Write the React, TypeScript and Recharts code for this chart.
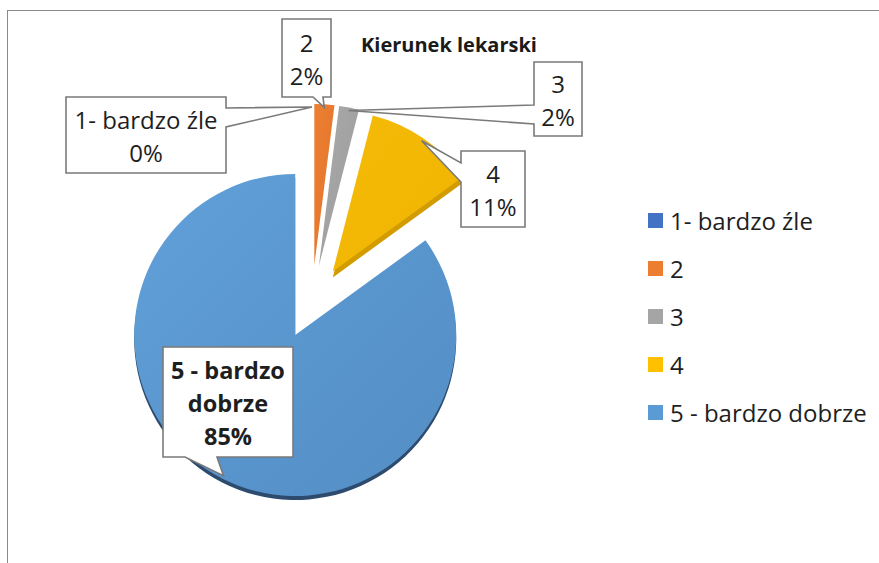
import React from 'react';
import { PieChart, Pie, Cell, Legend } from 'recharts';

// ---- data ----
const categories = ['1- bardzo źle', '2', '3', '4', '5 - bardzo dobrze'];
const shares = [0, 2, 2, 11, 85];
const calloutText = [['1- bardzo źle'], ['2'], ['3'], ['4'], ['5 - bardzo', 'dobrze']];
const title = 'Kierunek lekarski';

// ---- styling / layout ----
const legendColors = ['#4472c4', '#ed7d31', '#a5a5a5', '#ffc000', '#5b9bd5'];
const sliceFills = ['#4472c4', 'url(#gOrange)', 'url(#gGray)', 'url(#gYellow)', 'url(#gBlue)'];
const sideFills: Record<number, { fill: string; depth: number }> = {
  3: { fill: '#d29c00', depth: 6 },
  4: { fill: '#2d4b6e', depth: 4 },
};
const W = 879;
const H = 563;
const CENTER = { x: 312, y: 302 };
const EXPLODE = 37;
const R = 161;
const FONT = '"Open Sans", "Noto Sans", sans-serif';

type Callout = { x: number; y: number; w: number; h: number; side: 'left' | 'right' | 'bottom'; a: number; b: number; bold?: boolean };
const CALLOUTS: Callout[] = [
  { x: 66, y: 97, w: 160, h: 76, side: 'right', a: 108, b: 127 },
  { x: 282, y: 19, w: 49, h: 78, side: 'bottom', a: 313, b: 323 },
  { x: 534, y: 62, w: 48, h: 74, side: 'left', a: 105, b: 124 },
  { x: 461, y: 151, w: 64, h: 76, side: 'left', a: 163, b: 182 },
  { x: 163, y: 347, w: 130, h: 110, side: 'bottom', a: 185, b: 217, bold: true },
];

const data = categories.map((name, i) => ({ name, value: shares[i] }));
const total = shares.reduce((s, v) => s + v, 0);
const explodedCenters = shares.map((v, i) => {
  const cum = shares.slice(0, i).reduce((s, x) => s + x, 0);
  const mid = ((cum + v / 2) / total) * 2 * Math.PI;
  return { x: CENTER.x + EXPLODE * Math.sin(mid), y: CENTER.y - EXPLODE * Math.cos(mid) };
});

const RAD = Math.PI / 180;

const makeLabel = (visible: number) => (props: any) => {
  if (props.index !== visible) return null;
  const c = CALLOUTS[visible];
  const r = props.outerRadius - 3;
  const tx = props.cx + r * Math.cos(-props.midAngle * RAD);
  const ty = props.cy + r * Math.sin(-props.midAngle * RAD);
  const { x, y, w, h, a, b } = c;
  let d = '';
  if (c.side === 'right') {
    d = `M${x},${y} H${x + w} V${a} L${tx},${ty} L${x + w},${b} V${y + h} H${x} Z`;
  } else if (c.side === 'left') {
    d = `M${x},${y} H${x + w} V${y + h} H${x} V${b} L${tx},${ty} L${x},${a} Z`;
  } else {
    d = `M${x},${y} H${x + w} V${y + h} H${b} L${tx},${ty} L${a},${y + h} H${x} Z`;
  }
  const pct = `${Math.round(props.percent * 100)}%`;
  const lines = [...calloutText[visible], pct];
  const lh = 33;
  const cy0 = y + h / 2 + 1 - ((lines.length - 1) * lh) / 2;
  return (
    <g key={`callout-${visible}`}>
      <path d={d} fill="#ffffff" stroke="#7a7a7a" strokeWidth={1.6} strokeLinejoin="miter" />
      {lines.map((t, k) => (
        <text
          key={k}
          x={x + w / 2}
          y={cy0 + k * lh}
          textAnchor="middle"
          dominantBaseline="central"
          fontFamily={FONT}
          fontSize={c.bold ? 23.5 : 24}
          fontWeight={c.bold ? 700 : 400}
          fill="#1e1e1e"
        >
          {t}
        </text>
      ))}
    </g>
  );
};

const renderLegend = () => (
  <ul style={{ listStyle: 'none', margin: 0, padding: 0 }}>
    {categories.map((c, i) => (
      <li
        key={c}
        style={{
          height: 48,
          display: 'flex',
          alignItems: 'center',
          fontFamily: FONT,
          fontSize: 24,
          color: '#1e1e1e',
          whiteSpace: 'nowrap',
        }}
      >
        <span style={{ width: 15, height: 15, background: legendColors[i], marginRight: 7, display: 'inline-block', flex: 'none' }} />
        <span>{c}</span>
      </li>
    ))}
  </ul>
);

export default function App() {
  return (
    <div style={{ position: 'absolute', left: 0, top: 0, width: W, height: H, background: '#fff', overflow: 'hidden' }}>
      <div
        style={{
          position: 'absolute',
          left: 7,
          top: 10,
          width: W + 20,
          height: H + 20,
          borderTop: '1px solid #8a8a8a',
          borderLeft: '1px solid #8a8a8a',
        }}
      />
      <PieChart width={W} height={H} margin={{ top: 0, right: 0, bottom: 0, left: 0 }} style={{ position: 'absolute', left: 0, top: 0 }}>
        <defs>
          <linearGradient id="gBlue" x1="0" y1="0" x2="1" y2="1">
            <stop offset="0%" stopColor="#61a0d9" />
            <stop offset="100%" stopColor="#538dc4" />
          </linearGradient>
          <linearGradient id="gYellow" x1="0" y1="0" x2="1" y2="1">
            <stop offset="0%" stopColor="#f6bb08" />
            <stop offset="100%" stopColor="#efb400" />
          </linearGradient>
          <linearGradient id="gOrange" x1="0" y1="0" x2="1" y2="1">
            <stop offset="0%" stopColor="#ed7f33" />
            <stop offset="100%" stopColor="#e2742a" />
          </linearGradient>
          <linearGradient id="gGray" x1="0" y1="0" x2="1" y2="1">
            <stop offset="0%" stopColor="#a9a9a9" />
            <stop offset="100%" stopColor="#9c9c9c" />
          </linearGradient>
        </defs>
        {Object.keys(sideFills).map((k) => {
          const i = Number(k);
          return (
            <Pie
              key={`side-${i}`}
              data={data}
              dataKey="value"
              nameKey="name"
              cx={explodedCenters[i].x}
              cy={explodedCenters[i].y + sideFills[i].depth}
              outerRadius={R}
              startAngle={90}
              endAngle={-270}
              stroke="none"
              isAnimationActive={false}
              legendType="none"
            >
              {data.map((_, j) => (
                <Cell key={j} fill={j === i ? sideFills[i].fill : 'none'} stroke="none" />
              ))}
            </Pie>
          );
        })}
        {data.map((_, i) => (
          <Pie
            key={`slice-${i}`}
            data={data}
            dataKey="value"
            nameKey="name"
            cx={explodedCenters[i].x}
            cy={explodedCenters[i].y}
            outerRadius={R}
            startAngle={90}
            endAngle={-270}
            stroke="none"
            isAnimationActive={false}
            label={makeLabel(i)}
            labelLine={false}
          >
            {data.map((__, j) => (
              <Cell key={j} fill={j === i ? sliceFills[i] : 'none'} stroke="none" />
            ))}
          </Pie>
        ))}
        <text x={361} y={52} fontFamily={FONT} fontSize={20} fontWeight={700} fill="#1a1a1a">
          {title}
        </text>
        <Legend
          content={renderLegend}
          layout="vertical"
          align="right"
          verticalAlign="top"
          wrapperStyle={{ left: 648, top: 196, right: 'auto', width: 230 }}
        />
      </PieChart>
    </div>
  );
}
